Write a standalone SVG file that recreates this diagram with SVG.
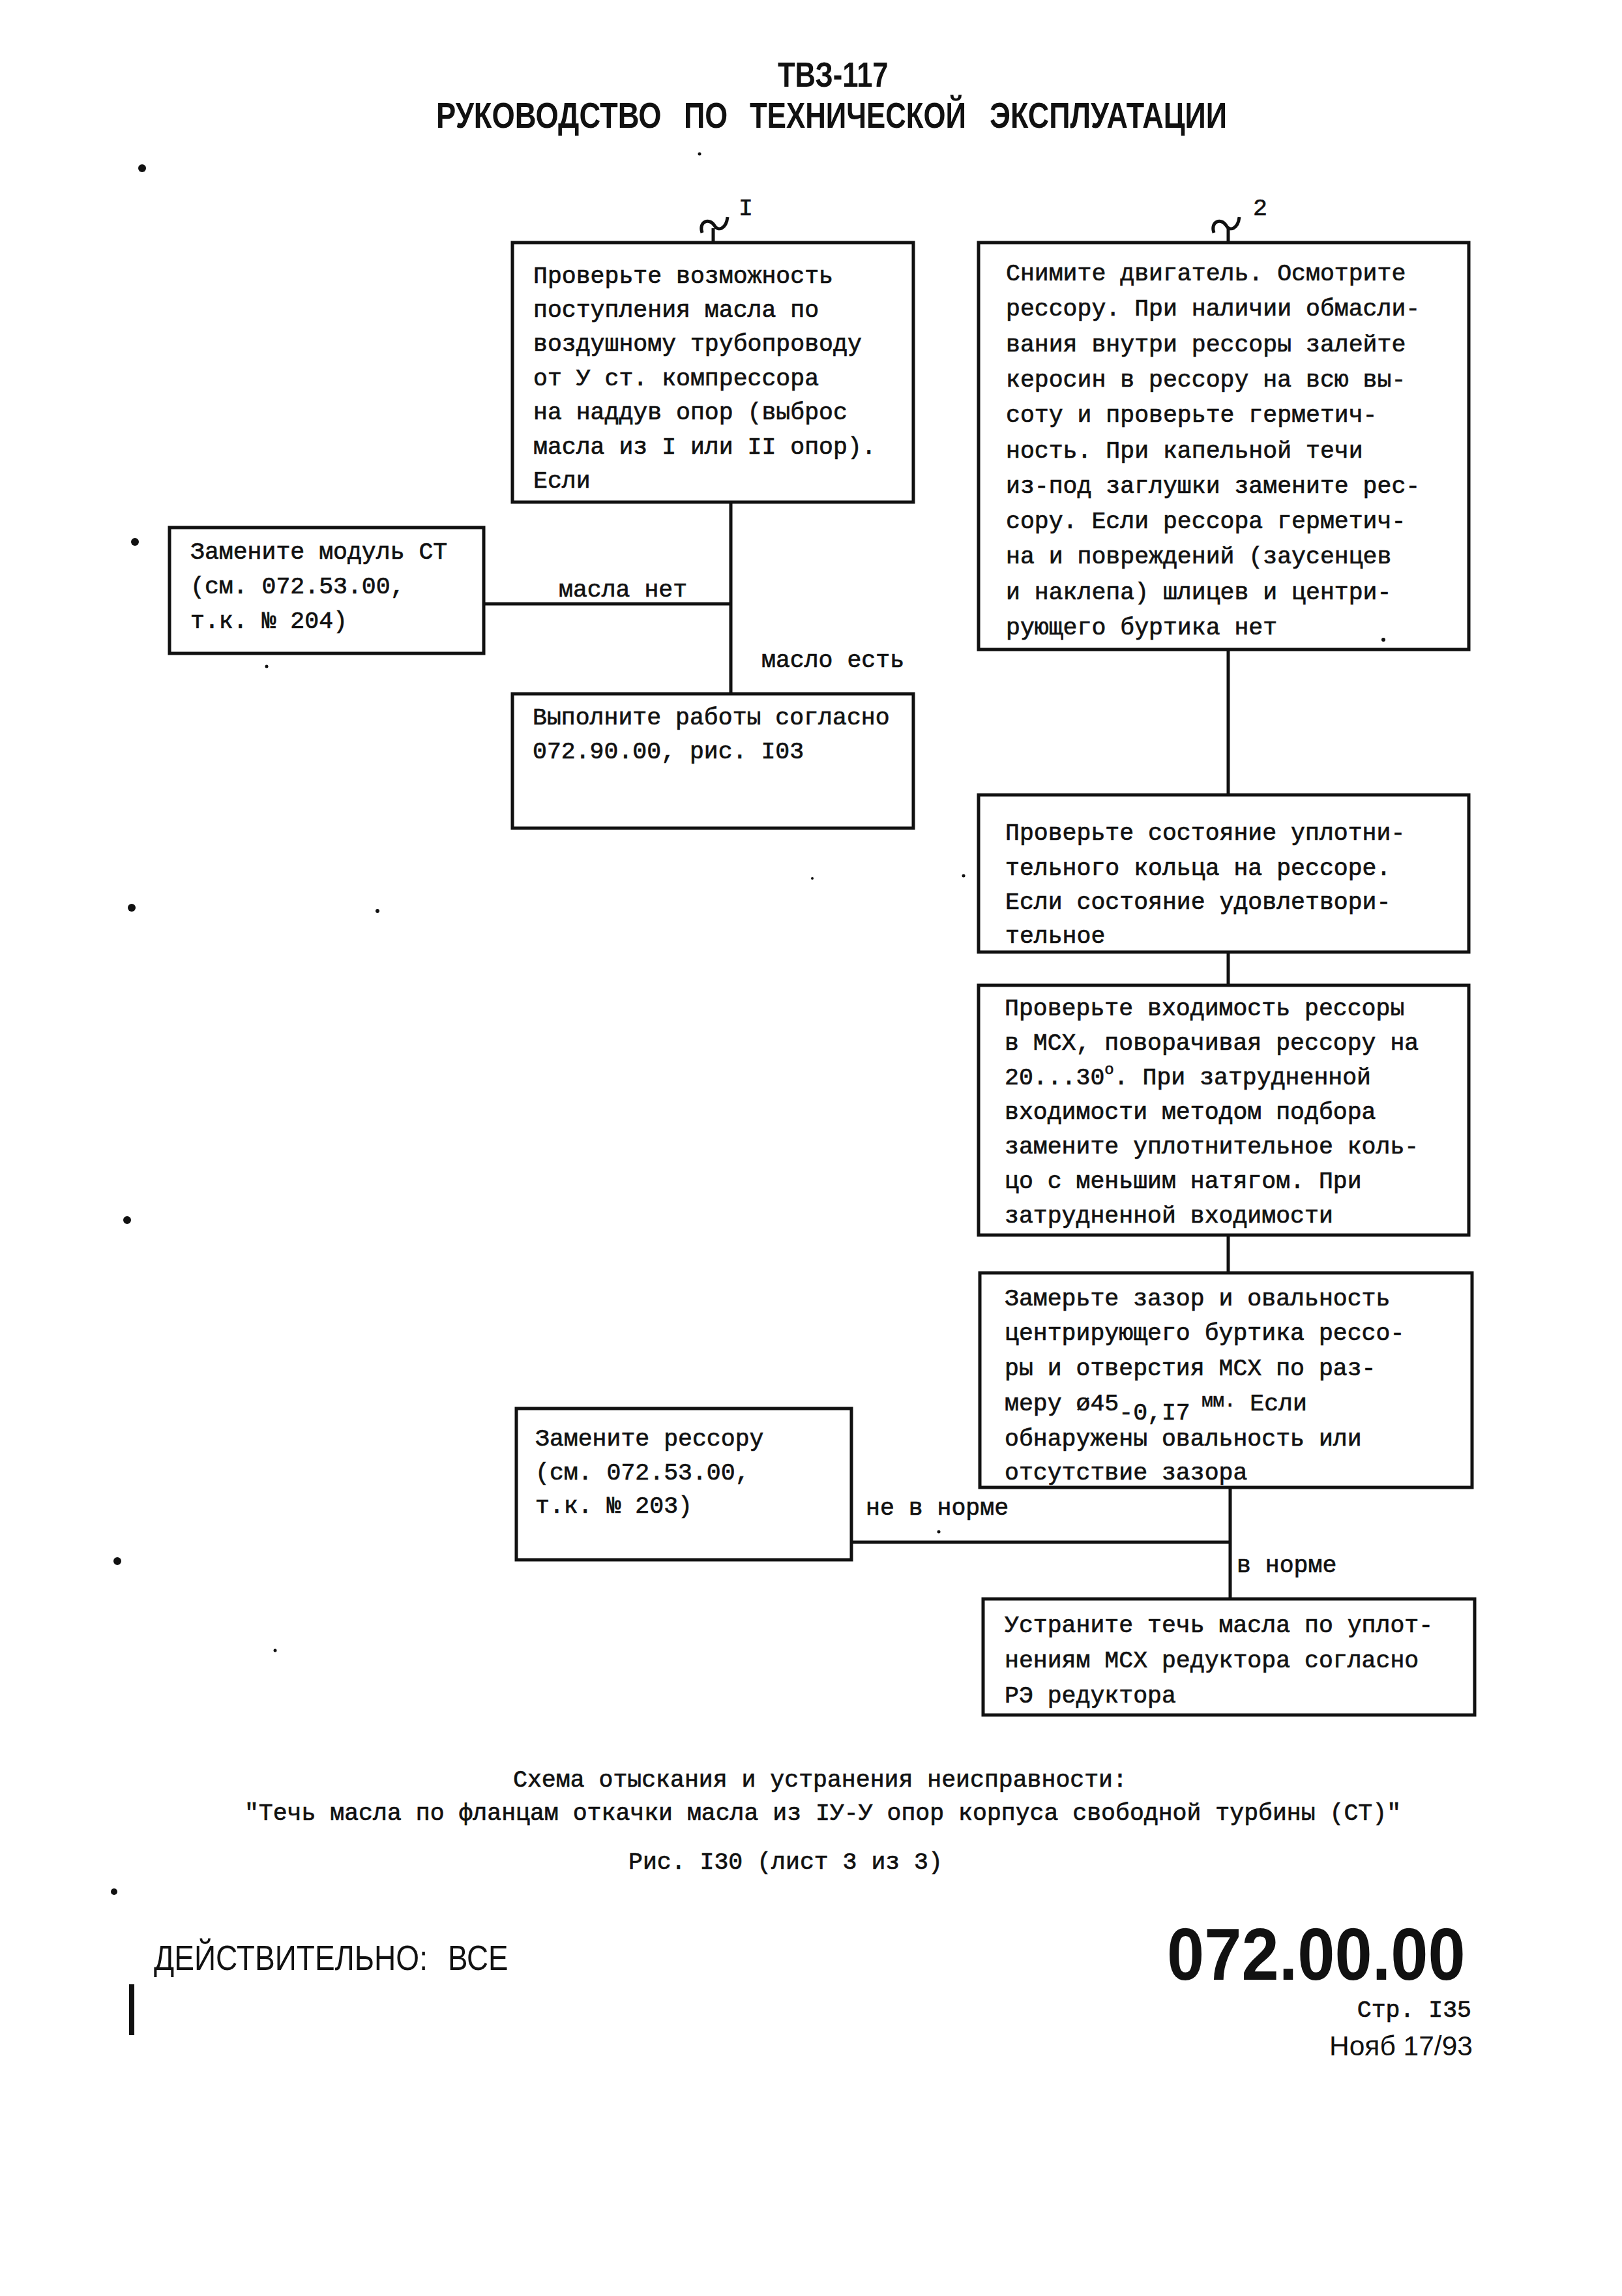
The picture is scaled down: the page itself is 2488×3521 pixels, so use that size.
<svg xmlns="http://www.w3.org/2000/svg" width="2488" height="3521" viewBox="0 0 2488 3521">
<style>
.bg{fill:#fff}
.box{fill:none;stroke:#111;stroke-width:5}
.ln{fill:none;stroke:#111;stroke-width:5}
.t{font-family:"Liberation Mono","DejaVu Sans Mono",monospace;font-size:36.5px;fill:#111;stroke:#111;stroke-width:0.7}
.h{font-family:"Liberation Sans","DejaVu Sans",sans-serif;font-weight:bold;fill:#111}
.s{font-family:"Liberation Sans","DejaVu Sans",sans-serif;fill:#111}
.dot{fill:#111}
</style>
<rect class="bg" x="0" y="0" width="2488" height="3521"/>

<g id="header">
<text class="h" transform="translate(1193,133) scale(0.8,1)" font-size="54" textLength="212" lengthAdjust="spacingAndGlyphs">ТВЗ-117</text>
<text class="h" transform="translate(669,196) scale(0.8,1)" font-size="56" textLength="432" lengthAdjust="spacingAndGlyphs">РУКОВОДСТВО</text>
<text class="h" transform="translate(1049,196) scale(0.8,1)" font-size="56" textLength="84" lengthAdjust="spacingAndGlyphs">ПО</text>
<text class="h" transform="translate(1150,196) scale(0.8,1)" font-size="56" textLength="415" lengthAdjust="spacingAndGlyphs">ТЕХНИЧЕСКОЙ</text>
<text class="h" transform="translate(1518,196) scale(0.8,1)" font-size="56" textLength="455" lengthAdjust="spacingAndGlyphs">ЭКСПЛУАТАЦИИ</text>
</g>

<g id="entries">
<path class="ln" d="M1077,357 C1071,340 1088,333 1096,346 C1102,356 1114,350 1116,333"/>
<path class="ln" d="M1094,350 L1094,372"/>
<text class="t" x="1133" y="330">I</text>
<path class="ln" d="M1862,357 C1856,340 1873,333 1881,346 C1887,356 1899,350 1901,333"/>
<path class="ln" d="M1884,350 L1884,372"/>
<text class="t" x="1922" y="330" font-size="32">2</text>
</g>

<g id="connectors">
<path class="ln" d="M1121,770 L1121,1064"/>
<path class="ln" d="M742,926 L1121,926"/>
<path class="ln" d="M1884,996 L1884,1219"/>
<path class="ln" d="M1884,1460 L1884,1511"/>
<path class="ln" d="M1884,1894 L1884,1952"/>
<path class="ln" d="M1887,2281 L1887,2452"/>
<path class="ln" d="M1306,2365 L1887,2365"/>
<text class="t" x="857" y="915">масла нет</text>
<text class="t" x="1168" y="1023">масло есть</text>
<text class="t" x="1328" y="2323">не в норме</text>
<text class="t" x="1897" y="2411">в норме</text>
</g>

<g id="nodeA">
<rect class="box" x="786" y="372" width="615" height="398"/>
<text class="t" x="818" y="434">Проверьте возможность</text>
<text class="t" x="818" y="486">поступления масла по</text>
<text class="t" x="818" y="538">воздушному трубопроводу</text>
<text class="t" x="818" y="591">от У ст. компрессора</text>
<text class="t" x="818" y="643">на наддув опор (выброс</text>
<text class="t" x="818" y="696">масла из I или II опор).</text>
<text class="t" x="818" y="748">Если</text>
</g>

<g id="nodeC">
<rect class="box" x="260" y="809" width="482" height="193"/>
<text class="t" x="292" y="857">Замените модуль СТ</text>
<text class="t" x="292" y="910">(см. 072.53.00,</text>
<text class="t" x="292" y="963">т.к. № 204)</text>
</g>

<g id="nodeD">
<rect class="box" x="786" y="1064" width="615" height="206"/>
<text class="t" x="817" y="1111">Выполните работы согласно</text>
<text class="t" x="817" y="1163">072.90.00, рис. I03</text>
</g>

<g id="nodeB">
<rect class="box" x="1501" y="372" width="752" height="624"/>
<text class="t" x="1543" y="430">Снимите двигатель. Осмотрите</text>
<text class="t" x="1543" y="484">рессору. При наличии обмасли-</text>
<text class="t" x="1543" y="539">вания внутри рессоры залейте</text>
<text class="t" x="1543" y="593">керосин в рессору на всю вы-</text>
<text class="t" x="1543" y="647">соту и проверьте герметич-</text>
<text class="t" x="1543" y="702">ность. При капельной течи</text>
<text class="t" x="1543" y="756">из-под заглушки замените рес-</text>
<text class="t" x="1543" y="810">сору. Если рессора герметич-</text>
<text class="t" x="1543" y="864">на и повреждений (заусенцев</text>
<text class="t" x="1543" y="919">и наклепа) шлицев и центри-</text>
<text class="t" x="1543" y="973">рующего буртика нет</text>
</g>

<g id="nodeE">
<rect class="box" x="1501" y="1219" width="752" height="241"/>
<text class="t" x="1542" y="1288">Проверьте состояние уплотни-</text>
<text class="t" x="1542" y="1342">тельного кольца на рессоре.</text>
<text class="t" x="1542" y="1394">Если состояние удовлетвори-</text>
<text class="t" x="1542" y="1446">тельное</text>
</g>

<g id="nodeF">
<rect class="box" x="1501" y="1511" width="752" height="383"/>
<text class="t" x="1541" y="1557">Проверьте входимость рессоры</text>
<text class="t" x="1541" y="1610">в МСХ, поворачивая рессору на</text>
<text class="t" x="1541" y="1663">20...30<tspan font-size="24" dy="-16">о</tspan><tspan dy="16">. При затрудненной</tspan></text>
<text class="t" x="1541" y="1716">входимости методом подбора</text>
<text class="t" x="1541" y="1769">замените уплотнительное коль-</text>
<text class="t" x="1541" y="1822">цо с меньшим натягом. При</text>
<text class="t" x="1541" y="1875">затрудненной входимости</text>
</g>

<g id="nodeG">
<rect class="box" x="1503" y="1952" width="755" height="329"/>
<text class="t" x="1541" y="2002">Замерьте зазор и овальность</text>
<text class="t" x="1541" y="2055">центрирующего буртика рессо-</text>
<text class="t" x="1541" y="2109">ры и отверстия МСХ по раз-</text>
<text class="t" x="1541" y="2163">меру ø45<tspan dy="14">-0,I7</tspan><tspan dy="-20" font-size="29"> мм.</tspan><tspan dy="6"> Если</tspan></text>
<text class="t" x="1541" y="2217">обнаружены овальность или</text>
<text class="t" x="1541" y="2269">отсутствие зазора</text>
</g>

<g id="nodeH">
<rect class="box" x="792" y="2160" width="514" height="232"/>
<text class="t" x="821" y="2217">Замените рессору</text>
<text class="t" x="821" y="2269">(см. 072.53.00,</text>
<text class="t" x="821" y="2320">т.к. № 203)</text>
</g>

<g id="nodeI">
<rect class="box" x="1508" y="2452" width="754" height="178"/>
<text class="t" x="1541" y="2503">Устраните течь масла по уплот-</text>
<text class="t" x="1541" y="2557">нениям МСХ редуктора согласно</text>
<text class="t" x="1541" y="2611">РЭ редуктора</text>
</g>

<g id="caption">
<text class="t" x="1258" y="2740" text-anchor="middle">Схема отыскания и устранения неисправности:</text>
<text class="t" x="1262" y="2791" text-anchor="middle">"Течь масла по фланцам откачки масла из IУ-У опор корпуса свободной турбины (СТ)"</text>
<text class="t" x="1205" y="2866" text-anchor="middle">Рис. I30 (лист 3 из 3)</text>
</g>

<g id="footer">
<text class="s" transform="translate(236,3021) scale(0.84,1)" font-size="54" textLength="500" lengthAdjust="spacingAndGlyphs">ДЕЙСТВИТЕЛЬНО:</text>
<text class="s" transform="translate(687,3021) scale(0.84,1)" font-size="54" textLength="110" lengthAdjust="spacingAndGlyphs">ВСЕ</text>
<text class="h" transform="translate(1790,3036) scale(0.91,1)" font-size="113" textLength="503" lengthAdjust="spacingAndGlyphs">072.00.00</text>
<text class="t" x="2257" y="3093" text-anchor="end">Стр. I35</text>
<text class="s" x="2039" y="3152" font-size="42" textLength="220" lengthAdjust="spacingAndGlyphs">Нояб 17/93</text>
<rect class="dot" x="198" y="3043" width="8" height="78"/>
</g>

<g id="marks">
<circle class="dot" cx="218" cy="258" r="6"/>
<circle class="dot" cx="207" cy="831" r="6"/>
<circle class="dot" cx="202" cy="1392" r="6"/>
<circle class="dot" cx="195" cy="1871" r="6"/>
<circle class="dot" cx="180" cy="2394" r="6"/>
<circle class="dot" cx="175" cy="2901" r="5"/>
<circle class="dot" cx="1073" cy="236" r="2.5"/>
<circle class="dot" cx="409" cy="1022" r="2.5"/>
<circle class="dot" cx="579" cy="1397" r="3"/>
<circle class="dot" cx="1478" cy="1343" r="2.5"/>
<circle class="dot" cx="1246" cy="1347" r="2"/>
<circle class="dot" cx="422" cy="2531" r="2.5"/>
<circle class="dot" cx="1440" cy="2349" r="2.5"/>
<circle class="dot" cx="2122" cy="981" r="3"/>
</g>
</svg>
